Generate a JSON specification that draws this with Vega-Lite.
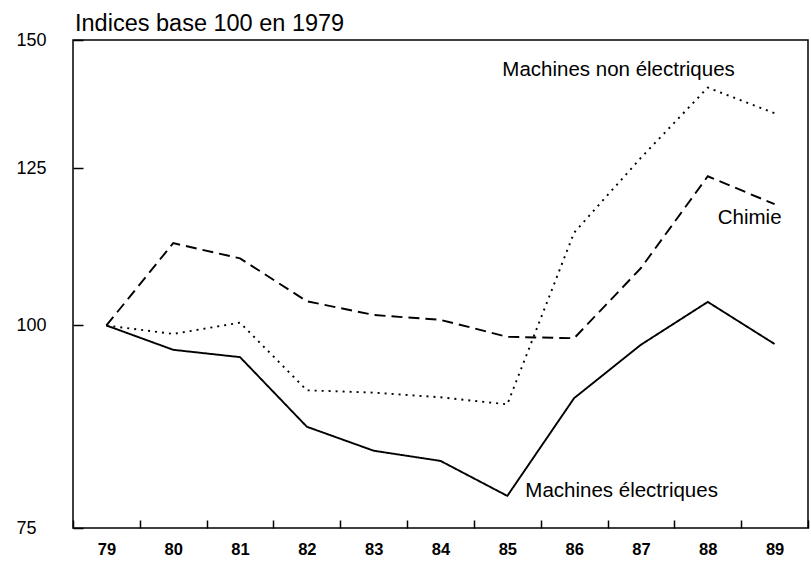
{
  "$schema": "https://vega.github.io/schema/vega-lite/v6.json",
  "width": 735,
  "height": 488,
  "autosize": {"type": "none"},
  "padding": {"left": 73, "top": 40, "right": 3, "bottom": 38},
  "background": "white",
  "title": {"text": "Indices base 100 en 1979", "anchor": "start", "frame": "group", "fontSize": 23.5, "fontWeight": "normal", "font": "Liberation Sans", "color": "black", "offset": -4, "dx": 2},
  "config": {"view": {"stroke": "black", "strokeWidth": 1.5}},
  "datasets": {
    "series": [
      {"series": "Machines électriques", "year": "79", "value": 100},
      {"series": "Machines électriques", "year": "80", "value": 96.6},
      {"series": "Machines électriques", "year": "81", "value": 95.6},
      {"series": "Machines électriques", "year": "82", "value": 86.6},
      {"series": "Machines électriques", "year": "83", "value": 83.7},
      {"series": "Machines électriques", "year": "84", "value": 82.5},
      {"series": "Machines électriques", "year": "85", "value": 78.5},
      {"series": "Machines électriques", "year": "86", "value": 90.2},
      {"series": "Machines électriques", "year": "87", "value": 97.3},
      {"series": "Machines électriques", "year": "88", "value": 103.4},
      {"series": "Machines électriques", "year": "89", "value": 97.4},
      {"series": "Chimie", "year": "79", "value": 100},
      {"series": "Chimie", "year": "80", "value": 112.4},
      {"series": "Chimie", "year": "81", "value": 110.0},
      {"series": "Chimie", "year": "82", "value": 103.5},
      {"series": "Chimie", "year": "83", "value": 101.5},
      {"series": "Chimie", "year": "84", "value": 100.8},
      {"series": "Chimie", "year": "85", "value": 98.4},
      {"series": "Chimie", "year": "86", "value": 98.2},
      {"series": "Chimie", "year": "87", "value": 108.5},
      {"series": "Chimie", "year": "88", "value": 123.6},
      {"series": "Chimie", "year": "89", "value": 118.8},
      {"series": "Machines non électriques", "year": "79", "value": 100},
      {"series": "Machines non électriques", "year": "80", "value": 98.8},
      {"series": "Machines non électriques", "year": "81", "value": 100.4},
      {"series": "Machines non électriques", "year": "82", "value": 91.2},
      {"series": "Machines non électriques", "year": "83", "value": 90.9},
      {"series": "Machines non électriques", "year": "84", "value": 90.3},
      {"series": "Machines non électriques", "year": "85", "value": 89.4},
      {"series": "Machines non électriques", "year": "86", "value": 114.1},
      {"series": "Machines non électriques", "year": "87", "value": 126.9},
      {"series": "Machines non électriques", "year": "88", "value": 140.2},
      {"series": "Machines non électriques", "year": "89", "value": 135.2}
    ],
    "labels": [
      {"label": "Machines non électriques", "year": "85", "value": 143.7},
      {"label": "Chimie", "year": "88", "value": 116.5},
      {"label": "Machines électriques", "year": "85", "value": 79.0}
    ]
  },
  "encoding": {
    "x": {
      "field": "year", "type": "ordinal", "bandPosition": 0.5,
      "scale": {"type": "band", "paddingInner": 0, "paddingOuter": 0, "domain": ["79","80","81","82","83","84","85","86","87","88","89"]},
      "axis": {"title": null, "tickBand": "extent", "tickSize": -8, "tickWidth": 1.5, "tickColor": "black", "domain": false, "labelFont": "Liberation Sans", "labelFontWeight": "bold", "labelFontSize": 16.5, "labelColor": "black", "labelPadding": 21, "labelAngle": 0, "grid": false}
    },
    "y": {
      "field": "value", "type": "quantitative",
      "scale": {"type": "log", "domain": [75, 150], "nice": false},
      "axis": {"title": null, "values": [75, 100, 125, 150], "format": "d", "tickSize": -10, "tickWidth": 1.5, "tickColor": "black", "domain": false, "labelAlign": "left", "labelBaseline": "middle", "labelPadding": 67, "labelFontSize": 18, "labelFont": "Liberation Sans", "labelColor": "black", "labelOverlap": false, "labelFlush": false, "grid": false}
    }
  },
  "layer": [
    {
      "data": {"name": "series"},
      "mark": {"type": "line", "strokeWidth": 1.9, "color": "black"},
      "encoding": {
        "strokeDash": {"field": "series", "type": "nominal", "scale": {"domain": ["Machines électriques", "Chimie", "Machines non électriques"], "range": [[1, 0], [11, 6], [2, 5]]}, "legend": null}
      }
    },
    {
      "data": {"name": "labels"},
      "transform": [{"filter": "datum.label === 'Machines non électriques'"}],
      "mark": {"type": "text", "align": "left", "baseline": "middle", "font": "Liberation Sans", "fontSize": 20.5, "color": "black", "dx": -5},
      "encoding": {"text": {"field": "label"}}
    },
    {
      "data": {"name": "labels"},
      "transform": [{"filter": "datum.label === 'Chimie'"}],
      "mark": {"type": "text", "align": "left", "baseline": "middle", "font": "Liberation Sans", "fontSize": 20.5, "color": "black", "dx": 10},
      "encoding": {"text": {"field": "label"}}
    },
    {
      "data": {"name": "labels"},
      "transform": [{"filter": "datum.label === 'Machines électriques'"}],
      "mark": {"type": "text", "align": "left", "baseline": "middle", "font": "Liberation Sans", "fontSize": 20.5, "color": "black", "dx": 18},
      "encoding": {"text": {"field": "label"}}
    }
  ]
}
